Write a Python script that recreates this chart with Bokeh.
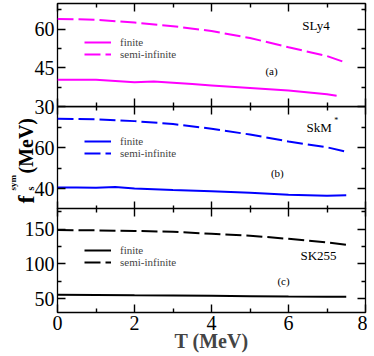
import math
from bokeh.plotting import figure
from bokeh.models import (Range1d, LinearAxis, FixedTicker, CustomJSTickFormatter,
                          Label, Legend, LegendItem)
from bokeh.core.properties import value
from bokeh.layouts import column, row
from bokeh.embed import file_html
from bokeh.resources import INLINE

# ---------------- data ----------------
T_sly4_fin = [0, 1, 1.5, 2, 2.5, 3, 3.5, 4, 5, 6, 7, 7.25]
sly4_fin = [40.4, 40.4, 39.9, 39.4, 39.7, 39.2, 38.7, 38.2, 37.2, 36.2, 34.8, 34.2]
T_semi = [0, 1, 2, 3, 4, 5, 6, 7, 7.5]
sly4_semi = [64.0, 63.7, 62.6, 61.2, 59.3, 56.6, 53.0, 49.6, 47.0]

T_skm_fin = [0, 0.5, 1, 1.5, 2, 3, 4, 5, 6, 7, 7.5]
skm_fin = [40.7, 40.7, 40.6, 40.9, 40.2, 39.5, 38.9, 38.1, 37.2, 36.7, 36.9]
skm_semi = [74.0, 73.8, 72.9, 71.5, 69.2, 66.4, 63.0, 60.2, 58.0]

T_sk255 = [0, 1, 2, 3, 4, 5, 6, 7, 7.5]
sk255_fin = [55.5, 55.3, 54.8, 54.4, 54.0, 53.5, 53.0, 52.7, 52.6]
sk255_semi = [149.0, 148.5, 147.6, 146.4, 143.6, 140.8, 136.2, 131.0, 127.5]

x_major = [0, 2, 4, 6, 8]
x_minor = [1, 3, 5, 7]
a_major, a_minor = [30, 45, 60], [37.5, 52.5, 67.5]
b_major, b_minor = [40, 60], [30, 50, 70]
c_major, c_minor = [50, 100, 150], [75, 125, 175]

SERIF = "Liberation Serif"
FW = 308


def hidden():
    return CustomJSTickFormatter(code="return ''")


def make_panel(yr, ymaj, ymin, fh, show_x_labels=False, top_border=0, bottom_border=0):
    p = figure(frame_width=FW, frame_height=fh, x_range=Range1d(0, 8), y_range=Range1d(*yr),
               output_backend="svg", toolbar_location=None,
               x_axis_location=None, y_axis_location=None,
               min_border_left=57, min_border_right=2, min_border_top=top_border,
               min_border_bottom=bottom_border)
    p.grid.visible = False
    p.outline_line_color = "black"
    p.outline_line_width = 1.3
    p.background_fill_color = "white"
    p.border_fill_alpha = 0

    def style(ax, labels):
        ax.axis_line_color = None
        ax.major_tick_in = 8
        ax.major_tick_out = 0
        ax.minor_tick_in = 4
        ax.minor_tick_out = 0
        ax.major_tick_line_width = 1.4
        ax.minor_tick_line_width = 1.4
        ax.major_tick_line_color = "black"
        ax.minor_tick_line_color = "black"
        if labels:
            ax.major_label_text_font = SERIF
            ax.major_label_text_font_size = "20px"
            ax.major_label_text_color = "black"
            ax.major_label_standoff = 3
        else:
            ax.formatter = hidden()
            ax.major_label_text_font_size = "1px"
            ax.major_label_standoff = 0

    left = LinearAxis(ticker=FixedTicker(ticks=ymaj, minor_ticks=ymin))
    style(left, True)
    right = LinearAxis(ticker=FixedTicker(ticks=ymaj, minor_ticks=ymin))
    style(right, False)
    top = LinearAxis(ticker=FixedTicker(ticks=x_major, minor_ticks=x_minor))
    style(top, False)
    bottom = LinearAxis(ticker=FixedTicker(ticks=x_major, minor_ticks=x_minor))
    style(bottom, show_x_labels)
    if show_x_labels:
        bottom.axis_label = "T (MeV)"
        bottom.axis_label_text_font = SERIF
        bottom.axis_label_text_font_size = "20px"
        bottom.axis_label_text_font_style = "bold"
        bottom.axis_label_standoff = -3
    p.add_layout(left, "left")
    p.add_layout(right, "right")
    p.add_layout(top, "above")
    p.add_layout(bottom, "below")
    return p


def add_series(p, tf, yf, ts, ys, color, legend_pos):
    r1 = p.line(tf, yf, line_color=color, line_width=2)
    r2 = p.line(ts, ys, line_color=color, line_width=2, line_dash="16 5")
    leg = Legend(items=[LegendItem(label="finite", renderers=[r1]),
                        LegendItem(label="semi-infinite", renderers=[r2])],
                 location=legend_pos, orientation="vertical",
                 label_text_font=SERIF, label_text_font_size="11px",
                 glyph_width=27, glyph_height=12, label_height=12,
                 label_standoff=9, spacing=0, padding=0, margin=0,
                 border_line_color=None, background_fill_alpha=0)
    p.add_layout(leg)


def txt(p, x, y, s, size, align="left"):
    p.add_layout(Label(x=x, y=y, text=s, text_font=SERIF, text_font_size=size,
                       text_align=align, text_baseline="middle", text_color="black"))


# ---------------- panel (a) ----------------
pa = make_panel((30, 70), a_major, a_minor, 103, top_border=3, bottom_border=10)
add_series(pa, T_sly4_fin, sly4_fin, T_semi, sly4_semi, "#ff00ff", (27, 46))
txt(pa, 6.36, 61.5, "SLy4", "13px")
txt(pa, 5.56, 43.8, "(a)", "11px", "center")
pa.styles = {"z-index": "2", "position": "relative", "margin-bottom": "-10px"}

# ---------------- panel (b) ----------------
pb = make_panel((30, 80), b_major, b_minor, 103)
add_series(pb, T_skm_fin, skm_fin, T_semi, skm_semi, "#0000ff", (27, 50))
txt(pb, 6.47, 69.7, "SkM", "13px")
txt(pb, 7.19, 73.0, "*", "8px")
txt(pb, 5.71, 47.5, "(b)", "11px", "center")
pb.styles = {"margin-left": "-38px"}

# y-axis title, drawn in a transparent overlay strip (pixel coordinates)
tfig = figure(frame_width=38, frame_height=103, x_range=Range1d(0, 38), y_range=Range1d(0, 103),
              output_backend="svg", toolbar_location=None,
              x_axis_location=None, y_axis_location=None, min_border=0)
tfig.grid.visible = False
tfig.outline_line_color = None
tfig.background_fill_alpha = 0
tfig.border_fill_alpha = 0
tfig.styles = {"z-index": "3", "position": "relative"}
title_parts = [("f", 25, 6, "24px"), ("s", 30, 19, "10px"),
               ("sym", 12, 19, "9px"), ("(MeV)", 25, 36, "20px")]
for s, x, y, size in title_parts:
    tfig.text(x=[x], y=[y], text=[s], angle=math.pi / 2, text_font=value(SERIF),
              text_font_size=size, text_font_style="bold", text_baseline="alphabetic",
              text_align="left", text_color="black")

mid = row(tfig, pb, spacing=0)
mid.styles = {"margin-bottom": "-1px"}

# ---------------- panel (c) ----------------
pc = make_panel((30, 180), c_major, c_minor, 104, show_x_labels=True)
add_series(pc, T_sk255, sk255_fin, T_sk255, sk255_semi, "black", (27, 44))
txt(pc, 6.31, 112.2, "SK255", "13px")
txt(pc, 5.87, 75.4, "(c)", "11px", "center")

layout = column(pa, mid, pc, spacing=0)
open("out.html", "w").write(file_html(layout, INLINE))
